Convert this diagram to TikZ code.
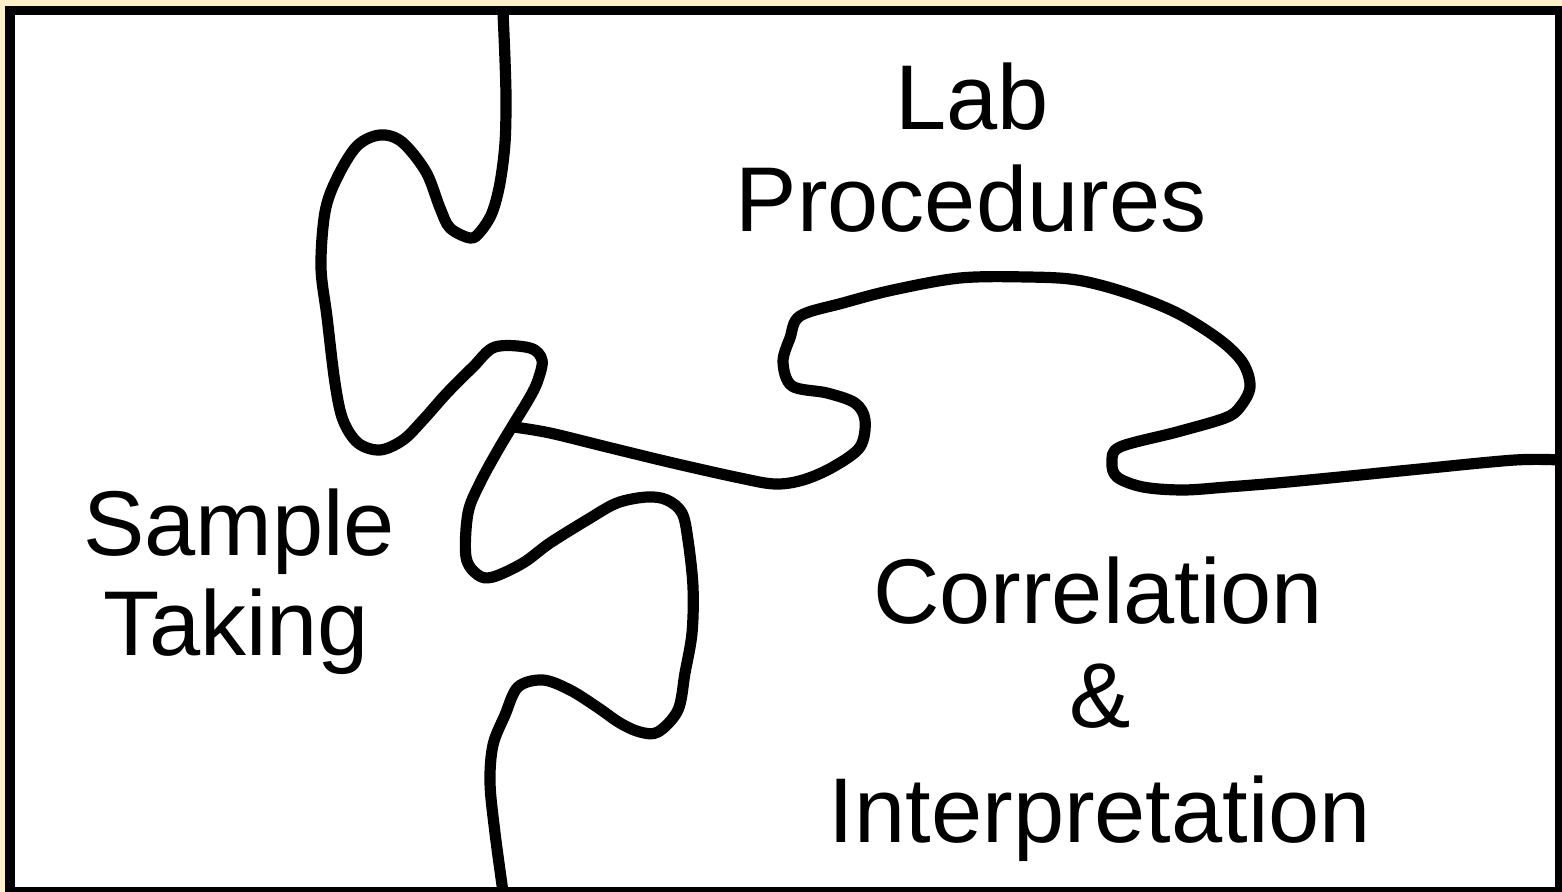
\documentclass[tikz,border=0pt]{standalone}
\usepackage{fontspec}
\setmainfont{Liberation Sans}
\usepackage{xcolor}
\usepackage{tikz}
\usetikzlibrary{calc}
\definecolor{framecream}{RGB}{253,240,200}
\tikzset{
  piecelabel/.style={
    anchor=base, inner sep=0pt, text=black,
    font=\fontsize{46}{55}\selectfont
  },
  cutline/.style={
    line width=5.6pt, line join=round, line cap=butt, color=black
  },
}

\begin{document}
\begin{tikzpicture}[x=0.5pt, y=-0.5pt]
  % === Frame ===
  \useasboundingbox (0,0) rectangle (1562,892);
  \fill[framecream] (0,0) rectangle (1562,892);
  \fill[black] (5,6) rectangle (1562,892);
  \fill[white] (15,15) rectangle (1555,887);

  % === Cut between the pieces ===
  \draw[cutline] plot[smooth, tension=0.55] coordinates {
    (503,12) (505,60) (506,100) (505,143) (500,183) (492,213) (480,232)
    (470,238) (450,228) (440,208) (426,172) (402,142) (380,135)
    (357,146) (337,178) (325,212) (321,267) (327,317) (335,383)
    (343,420) (358,443) (380,450) (403,440) (423,420) (447,393) (473,367)
    (495,347) (530,348) (542,360) (538,380) (530,397) (513,425) (498,450)
    (480,483) (468,513) (466,557) (478,575) (493,577) (523,563) (550,543)
    (587,520) (617,503) (647,497) (667,500) (682,513) (688,540) (693,587)
    (692,633) (685,673) (678,710) (658,732) (640,732) (620,723) (597,707)
    (570,690) (543,680) (518,687) (505,715) (493,745) (490,783) (495,833)
    (503,892)};
  \draw[cutline] plot[smooth, tension=0.55] coordinates {
    (514,427) (550,433) (607,447) (673,463) (740,478) (775,484) (803,480)
    (833,467) (860,447) (865,420) (855,403) (827,393) (792,386)
    (783,362) (790,338) (800,316) (843,303) (893,290) (960,278) (1027,277)
    (1077,280) (1127,293) (1177,313) (1220,340) (1243,363) (1250,387)
    (1240,407) (1225,418) (1177,432) (1120,447) (1112,462) (1117,477)
    (1143,487) (1183,490) (1227,487) (1277,483) (1350,476) (1420,469)
    (1515,460) (1560,460)};

  % === Labels ===
  \node[piecelabel] (lab) at (972,130) {Lab};
  \node[piecelabel] (procedures) at (971,232) {Procedures};
  \node[piecelabel] (sample) at (239,555) {Sample};
  \node[piecelabel] (taking) at (236,655) {Taking};
  \node[piecelabel] (correlation) at (1098,623) {Correlation};
  \node[piecelabel] (amp) at (1100,727) {\&};
  \node[piecelabel] (interpretation) at (1100,842) {Interpretation};
\end{tikzpicture}
\end{document}
